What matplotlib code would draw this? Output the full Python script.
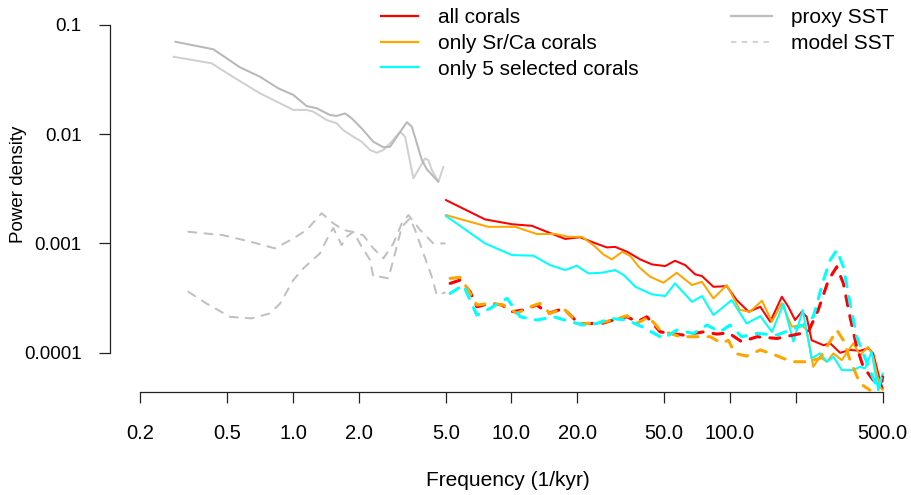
import matplotlib
matplotlib.use("Agg")
import matplotlib.pyplot as plt
from matplotlib.lines import Line2D

plt.rcParams['font.family'] = ['Liberation Sans', 'DejaVu Sans']

# ---------------- data (frequency in 1/kyr, power density) ----------------
proxy_a_f = [0.289, 0.432, 0.572, 0.706, 0.857, 1.003, 1.155, 1.283, 1.476, 1.585, 1.730,
             1.856, 2.063, 2.332, 2.593, 2.783, 3.093, 3.320, 3.50, 3.89, 4.10, 4.63]
proxy_a_p = [0.0703, 0.0599, 0.0410, 0.0336, 0.0263, 0.0229, 0.0181, 0.0173, 0.0150, 0.0147, 0.0155,
             0.0140, 0.0113, 0.00854, 0.00759, 0.00768, 0.0105, 0.0129, 0.0117, 0.00580, 0.00477, 0.00367]

proxy_b_f = [0.284, 0.424, 0.515, 0.706, 1.003, 1.155, 1.238, 1.426, 1.585, 1.699, 1.888, 2.063, 2.253,
             2.418, 2.593, 2.783, 3.093, 3.260, 3.374, 3.557, 3.818, 4.023, 4.164, 4.318, 4.63, 4.88]
proxy_b_p = [0.0512, 0.0446, 0.0348, 0.0237, 0.0167, 0.0167, 0.0161, 0.0135, 0.0126, 0.0109, 0.00949,
             0.00854, 0.00717, 0.00677, 0.00717, 0.00825, 0.0105, 0.00949, 0.00668, 0.00395, 0.00504,
             0.00601, 0.00580, 0.00470, 0.00367, 0.00504]

model_a_f = [0.332, 0.479, 0.636, 0.827, 1.003, 1.155, 1.353, 1.529, 1.699, 1.856, 2.097, 2.332,
             2.593, 2.880, 3.149, 3.374, 3.818, 4.391, 4.95]
model_a_p = [0.00128, 0.00119, 0.00104, 0.000902, 0.00111, 0.00133, 0.00189, 0.00153, 0.00133, 0.00128,
             0.00119, 0.000902, 0.000731, 0.00100, 0.00153, 0.00182, 0.00133, 0.00100, 0.00100]

model_b_f = [0.332, 0.402, 0.515, 0.647, 0.785, 0.873, 1.003, 1.116, 1.329, 1.476, 1.529, 1.671, 1.761,
             1.888, 2.063, 2.253, 2.332, 2.503, 2.733, 2.931, 3.149, 3.434, 3.620, 3.952, 4.318, 4.553, 4.95]
model_b_p = [0.000361, 0.000282, 0.000213, 0.000206, 0.000229, 0.000282, 0.000462, 0.000592, 0.000812,
             0.00124, 0.00138, 0.000967, 0.00115, 0.00128, 0.000933, 0.000705, 0.000496, 0.000496,
             0.000479, 0.000812, 0.00142, 0.00170, 0.00133, 0.000812, 0.000496, 0.000337, 0.000355]

all_f = [5.0, 7.57, 10.05, 12.4, 14.5, 17.6, 20.6, 23.7, 27.3, 29.8, 33.8, 38.8, 43.9, 50.5, 56.0,
         62.4, 69.3, 74.4, 84.0, 96.6, 107.3, 121.7, 137.6, 152.8, 172.7, 185.0, 198.5, 213.0, 224.4,
         236.4, 267.8, 287.3, 319.0, 354.3, 393.5, 429.2, 452.3, 485.1, 500.0]
all_p = [0.00250, 0.00166, 0.00150, 0.00145, 0.00128, 0.00110, 0.00114, 0.00102, 0.00092, 0.00093,
         0.00084, 0.000715, 0.000643, 0.000621, 0.000694, 0.000634, 0.000521, 0.000503, 0.000401,
         0.000407, 0.000303, 0.000237, 0.000263, 0.000192, 0.000325, 0.000263, 0.000199, 0.000237,
         0.000213, 0.000130, 0.000117, 0.000122, 0.0000998, 0.000106, 0.000104, 0.000110, 0.0000985,
         0.0000561, 0.0000470]

srca_f = [5.0, 7.83, 10.4, 13.06, 15.9, 18.3, 21.0, 23.7, 26.3, 28.8, 32.1, 35.0, 38.2, 43.1, 49.6,
          57.0, 67.0, 74.4, 84.0, 96.6, 111.0, 123.4, 140.1, 155.5, 172.7, 191.8, 213.0, 224.4, 240.5,
          258.0, 277.5, 297.4, 324.8, 366.8, 393.5, 429.2, 452.3, 485.1, 500.0]
srca_p = [0.00182, 0.00142, 0.00142, 0.00122, 0.00122, 0.00115, 0.00115, 0.000967, 0.000795, 0.000715,
          0.000839, 0.000767, 0.000612, 0.000496, 0.000437, 0.000539, 0.000416, 0.000446, 0.000314,
          0.000416, 0.000246, 0.000237, 0.000299, 0.000192, 0.000283, 0.000173, 0.000179, 0.000161,
          0.0000743, 0.0000917, 0.0000826, 0.0000985, 0.0000855, 0.000122, 0.0000951, 0.000113,
          0.0000917, 0.0000487, 0.0000454]

sel5_f = [5.0, 7.57, 10.05, 12.6, 15.0, 17.6, 19.9, 22.5, 25.9, 29.8, 32.6, 36.9, 43.9, 50.5, 56.0,
          67.0, 74.4, 84.0, 101.8, 119.2, 137.6, 155.5, 175.6, 195.1, 215.2, 236.4, 258.0, 277.5,
          297.4, 324.8, 366.8, 393.5, 414.6, 444.8, 476.6, 500.0]
sel5_p = [0.00179, 0.00100, 0.000783, 0.000772, 0.000634, 0.000571, 0.000625, 0.000532, 0.000539,
          0.000571, 0.000514, 0.000401, 0.000342, 0.000330, 0.000431, 0.000292, 0.000330, 0.000221,
          0.000303, 0.000185, 0.000216, 0.000155, 0.000279, 0.000126, 0.000246, 0.0000887, 0.0000985,
          0.0000826, 0.0000917, 0.0000693, 0.0000693, 0.0000743, 0.0000718, 0.000102, 0.0000454,
          0.0000646]

all_m_f = [5.24, 5.82, 6.47, 6.94, 7.97, 9.05, 10.05, 11.34, 13.06, 14.74, 17.3, 20.3, 25.9, 29.2,
           33.8, 37.5, 41.7, 47.9, 61.1, 75.6, 87.0, 98.3, 113.1, 132.9, 163.9, 195.1, 228.2, 253.4,
           282.2, 308.2, 330.2, 354.3, 380.1, 407.2, 452.3, 493.8, 500.0]
all_m_p = [0.000431, 0.000462, 0.000361, 0.000263, 0.000283, 0.000273, 0.000237, 0.000246, 0.000273,
           0.000229, 0.000254, 0.000185, 0.000185, 0.000199, 0.000213, 0.000192, 0.000213, 0.000155,
           0.000145, 0.000155, 0.000148, 0.000152, 0.000126, 0.000140, 0.000135, 0.000145, 0.000155,
           0.000246, 0.000462, 0.000612, 0.000431, 0.000213, 0.000113, 0.0000743, 0.0000561,
           0.0000523, 0.0000601]

srca_m_f = [5.24, 5.82, 6.35, 6.94, 7.97, 9.2, 10.59, 12.17, 13.5, 15.0, 17.3, 20.3, 25.4, 29.2, 33.8,
            37.5, 42.4, 47.9, 59.1, 70.6, 81.1, 91.7, 98.3, 105.4, 119.2, 137.6, 161.0, 191.8, 224.4,
            258.0, 277.5, 308.2, 330.2, 354.3, 393.5, 436.9]
srca_m_p = [0.000479, 0.000490, 0.000374, 0.000273, 0.000283, 0.000273, 0.000229, 0.000263, 0.000283,
            0.000229, 0.000254, 0.000183, 0.000188, 0.000199, 0.000218, 0.000185, 0.000213, 0.000161,
            0.000140, 0.000140, 0.000140, 0.000122, 0.000130, 0.0000985, 0.0000931, 0.000106,
            0.0000951, 0.0000826, 0.0000826, 0.0000887, 0.000113, 0.000161, 0.000130, 0.0000855,
            0.0000523, 0.0000454]

sel5_m_f = [5.24, 6.02, 6.94, 7.97, 9.54, 10.96, 13.06, 15.6, 18.6, 21.4, 24.6, 28.2, 33.8, 39.5, 49.6,
            57.0, 68.1, 78.4, 90.1, 100.0, 113.1, 132.9, 163.9, 188.3, 216.5, 240.5, 267.8, 287.3,
            308.2, 330.2, 354.3, 380.1, 407.2, 436.9, 476.6, 500.0]
sel5_m_p = [0.000349, 0.000416, 0.000221, 0.000254, 0.000314, 0.000213, 0.000199, 0.000213, 0.000192,
            0.000179, 0.000185, 0.000206, 0.000199, 0.000173, 0.000135, 0.000161, 0.000150, 0.000179,
            0.000155, 0.000179, 0.000140, 0.000150, 0.000145, 0.000161, 0.000179, 0.000213, 0.000462,
            0.000705, 0.000870, 0.000612, 0.000283, 0.000140, 0.0000985, 0.0000693, 0.0000454,
            0.0000669]

x_ticks = [0.2, 0.5, 1, 2, 5, 10, 20, 50, 100, 200, 500]
x_tick_labels = ['0.2', '0.5', '1.0', '2.0', '5.0', '10.0', '20.0', '50.0', '100.0', '', '500.0']
y_ticks = [0.0001, 0.001, 0.01, 0.1]
y_tick_labels = ['0.0001', '0.001', '0.01', '0.1']

coral_labels = ['all corals', 'only Sr/Ca corals', 'only 5 selected corals']
sst_labels = ['proxy SST', 'model SST']

# ---------------- figure ----------------
W, H = 912, 495
fig = plt.figure(figsize=(W / 100, H / 100), dpi=100)
L, R, T, B = 110, 905, 5, 392
ax = fig.add_axes([L / W, 1 - B / H, (R - L) / W, (B - T) / H])
ax.set_xscale('log')
ax.set_yscale('log')
ax.set_xlim(0.1454, 632.4)
ax.set_ylim(4.366e-5, 0.1524)

RED, ORANGE, CYAN = '#FF0000', '#FFA500', '#00FFFF'
GRAY_D, GRAY_L, GRAY_M = '#B8B8B8', '#D0D0D0', '#C0C0C0'

solid_kw = dict(lw=1.45, solid_capstyle='round', solid_joinstyle='round')
dash_kw = dict(lw=2.2, ls=(0, (3.3, 3.3)), dash_capstyle='round')
gdash_kw = dict(lw=1.45, ls=(0, (4.0, 4.0)), dash_capstyle='round')

ax.plot(proxy_b_f, proxy_b_p, color=GRAY_L, **solid_kw)
ax.plot(proxy_a_f, proxy_a_p, color=GRAY_D, **solid_kw)
ax.plot(model_a_f, model_a_p, color=GRAY_M, **gdash_kw)
ax.plot(model_b_f, model_b_p, color=GRAY_M, **gdash_kw)

ax.plot(all_f, all_p, color=RED, **solid_kw)
ax.plot(srca_f, srca_p, color=ORANGE, **solid_kw)
ax.plot(sel5_f, sel5_p, color=CYAN, **solid_kw)
ax.plot(all_m_f, all_m_p, color=RED, **dash_kw)
ax.plot(srca_m_f, srca_m_p, color=ORANGE, **dash_kw)
ax.plot(sel5_m_f, sel5_m_p, color=CYAN, **dash_kw)

# axes styling (R-like)
for s in ['top', 'right']:
    ax.spines[s].set_visible(False)
ax.spines['left'].set_bounds(1e-4, 0.1)
ax.spines['bottom'].set_bounds(0.2, 500)
for s in ['left', 'bottom']:
    ax.spines[s].set_linewidth(0.9)
    ax.spines[s].set_color('#222222')

ax.set_xticks(x_ticks)
ax.set_xticklabels(x_tick_labels)
ax.set_yticks(y_ticks)
ax.set_yticklabels(y_tick_labels)
ax.minorticks_off()
ax.tick_params(axis='x', length=7.8, width=0.9, color='#222222', pad=15, labelsize=14.5)
ax.tick_params(axis='y', length=7.8, width=0.9, color='#222222', pad=12.5, labelsize=13.5)

fig.text(507.5 / W, 1 - 481 / H, 'Frequency (1/kyr)', ha='center', va='center', fontsize=15)
fig.text(19 / W, 1 - 184 / H, 'Power density', rotation=90, ha='center', va='center', fontsize=13.5)

# legends
h1 = [Line2D([], [], color=c, lw=1.6) for c in (RED, ORANGE, CYAN)]
leg1 = ax.legend(h1, coral_labels, loc='upper left', bbox_to_anchor=(381 / W, 1 - 8 / H),
                 bbox_transform=fig.transFigure, frameon=False, fontsize=15, handlelength=1.8,
                 handletextpad=0.95, labelspacing=0.33, borderpad=0, borderaxespad=0)
ax.add_artist(leg1)
h2 = [Line2D([], [], color='#BEBEBE', lw=1.6),
      Line2D([], [], color='#CFCFCF', lw=1.3, ls=(0, (3, 3)))]
ax.legend(h2, sst_labels, loc='upper left', bbox_to_anchor=(731 / W, 1 - 8 / H),
          bbox_transform=fig.transFigure, frameon=False, fontsize=15, handlelength=1.95,
          handletextpad=0.95, labelspacing=0.33, borderpad=0, borderaxespad=0)

fig.savefig('out.png', dpi=100)
